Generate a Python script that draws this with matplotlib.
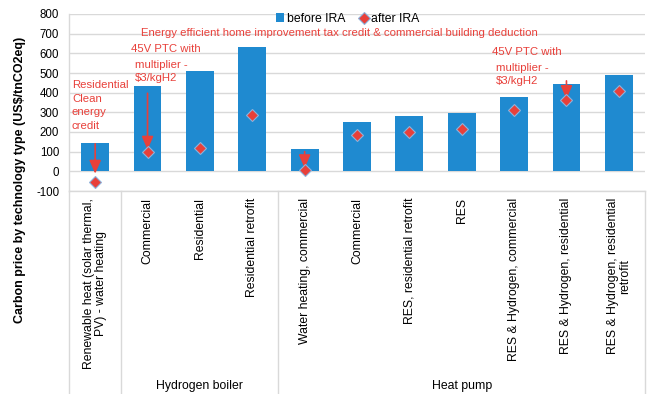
import matplotlib
matplotlib.use('Agg')
import matplotlib.pyplot as plt
import matplotlib.transforms as mtransforms

plt.rcParams['font.family'] = ['Liberation Sans', 'DejaVu Sans']

# data
categories = ['Renewable heat (solar thermal,\nPV) - water heating',
              'Commercial', 'Residential', 'Residential retrofit',
              'Water heating, commercial', 'Commercial', 'RES, residential retrofit',
              'RES', 'RES & Hydrogen, commercial', 'RES & Hydrogen, residential',
              'RES & Hydrogen, residential\nretrofit']
before_ira = [145, 435, 510, 632, 113, 250, 281, 296, 378, 444, 490]
after_ira = [-53, 98, 117, 288, 8, 183, 198, 215, 310, 361, 407]
groups = ['', 'Hydrogen boiler', 'Heat pump']
group_edges = [-0.5, 0.5, 3.5, 10.5]
yticks = list(range(-100, 801, 100))

# arrows: (category index, from, to)
arrows = [(0, 140, -12), (1, 397, 110), (4, 100, 16), (9, 460, 368)]

blue = '#1f8ad0'
red = '#e8403a'

fig = plt.figure(figsize=(6.48, 3.94), dpi=100)
ax = fig.add_axes([69/648, 1 - 191/394, 576/648, 177/394])

x = list(range(len(categories)))
bars = ax.bar(x, before_ira, width=0.53, color=blue, label='before IRA', zorder=2)
pts, = ax.plot(x, after_ira, linestyle='none', marker='D', markersize=6,
               markerfacecolor=red, markeredgecolor='#8db3dc', markeredgewidth=0.8,
               label='after IRA', zorder=4)

for i, y0, y1 in arrows:
    ax.annotate('', xy=(i, y1), xytext=(i, y0), zorder=3,
                arrowprops=dict(arrowstyle='-|>,head_length=0.8,head_width=0.35',
                                color=red, lw=1.2, shrinkA=0, shrinkB=0))

ax.set_xlim(-0.5, 10.5)
ax.set_ylim(-100, 800)
ax.set_yticks(yticks)
ax.set_yticklabels([str(t) for t in yticks], fontsize=8.3)
ax.tick_params(axis='y', length=0, pad=7)
ax.set_xticks([])
ax.grid(axis='y', color='#d9d9d9', linewidth=1, zorder=0)
ax.set_axisbelow(True)
for s in ['top', 'right']:
    ax.spines[s].set_visible(False)
for s in ['left', 'bottom']:
    ax.spines[s].set_color('#d9d9d9')
    ax.spines[s].set_linewidth(1)

# category labels below the axis
trans = mtransforms.blended_transform_factory(ax.transData, fig.transFigure)
for i, lab in enumerate(categories):
    ax.text(i, 1 - 198/394, lab, transform=trans, rotation=90, ha='center',
            va='top', fontsize=8.8, multialignment='center', linespacing=1.0)

# group separators and labels
for e in group_edges:
    ax.plot([e, e], [1 - 191/394, 0], transform=trans, color='#d9d9d9',
            linewidth=1, clip_on=False)
for g, a, b in zip(groups, group_edges[:-1], group_edges[1:]):
    ax.text((a + b) / 2, 1 - 386/394, g, transform=trans, ha='center',
            va='center', fontsize=8.8)

# red annotations
fs = 8.2
ax.text(-0.443, 462, 'Residential\nClean\nenergy\ncredit', color=red,
        fontsize=fs, va='top', ha='left', linespacing=1.42)
ax.text(0.684, 622, '45V PTC with', color=red, fontsize=fs, va='center')
ax.text(0.760, 540, 'multiplier -', color=red, fontsize=fs, va='center')
ax.text(0.760, 474, '$3/kgH2', color=red, fontsize=fs, va='center')
ax.text(0.875, 703,
        'Energy efficient home improvement tax credit & commercial building deduction',
        color=red, fontsize=fs, va='center')
ax.text(7.579, 606, '45V PTC with', color=red, fontsize=fs, va='center')
ax.text(7.655, 525, 'multiplier -', color=red, fontsize=fs, va='center')
ax.text(7.655, 459, '$3/kgH2', color=red, fontsize=fs, va='center')

ax.legend(handles=[bars, pts], loc='center', bbox_to_anchor=(0.483, 1 - 5/177),
          ncol=2, frameon=False, fontsize=8.8, handlelength=0.7, handletextpad=0.2,
          columnspacing=1.2, borderpad=0)

fig.text(20/648, 1 - 180/394, 'Carbon price by technology type (US$/tnCO2eq)',
         rotation=90, ha='center', va='center', fontsize=9, fontweight='bold')

fig.savefig('out.png', dpi=100)
